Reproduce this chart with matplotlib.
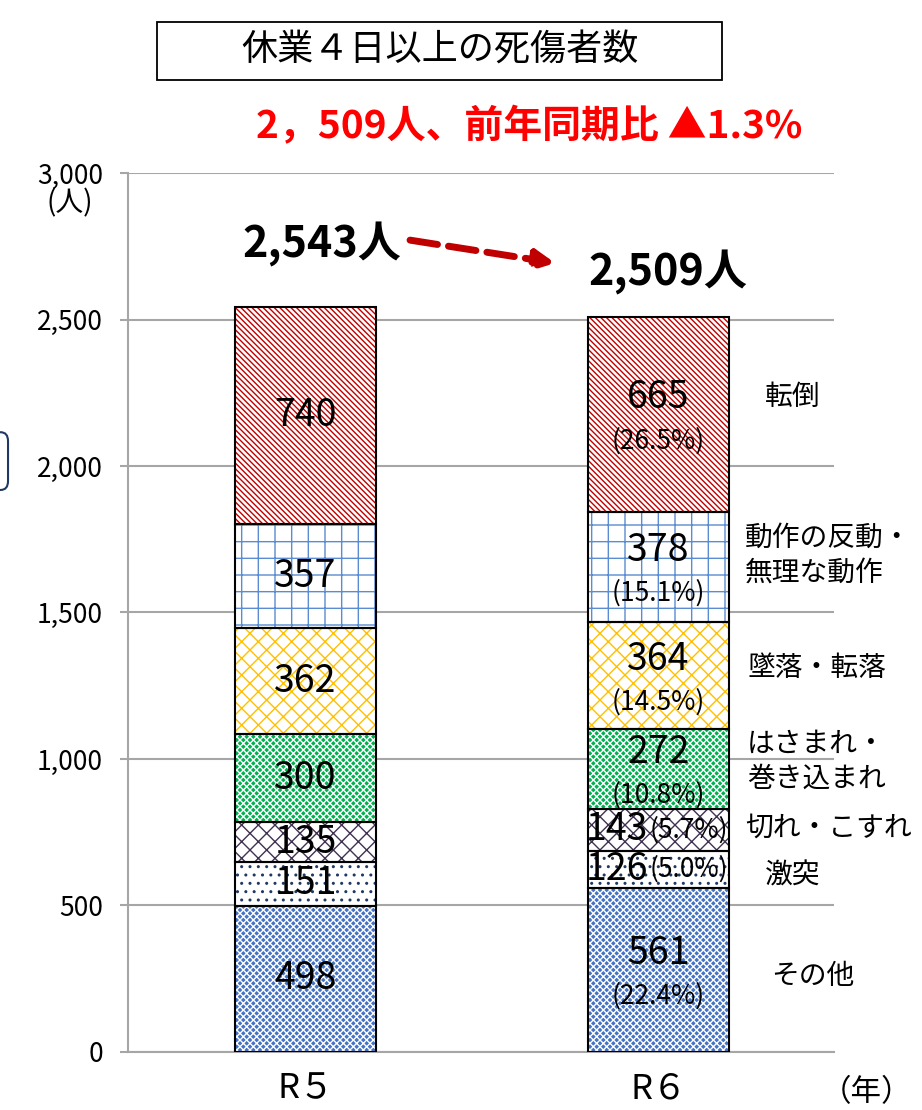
import matplotlib
matplotlib.use("Agg")
import matplotlib.pyplot as plt
from matplotlib.patches import FancyBboxPatch, Rectangle

plt.rcParams['font.family'] = ['Noto Sans CJK JP', 'DejaVu Sans']

# data
years = ['R５', 'R６']
categories = ['その他', '激突', '切れ・こすれ', 'はさまれ・\n巻き込まれ', '墜落・転落', '動作の反動・\n無理な動作', '転倒']
r5 = [498, 151, 135, 300, 362, 357, 740]
r6 = [561, 126, 143, 272, 364, 378, 665]
pct6 = [22.4, 5.0, 5.7, 10.8, 14.5, 15.1, 26.5]
totals = [2543, 2509]
yticks = [0, 500, 1000, 1500, 2000, 2500, 3000]

# styles: (facecolor, hatch colour, hatch)
styles = [
    ('#4472C4', 'white', 'xxxxx'),
    ('white', '#1F3864', '..'),
    ('white', '#403151', 'xx'),
    ('#00B050', 'white', 'xxxxx'),
    ('white', '#FFC000', 'xx'),
    ('white', '#5B8BD0', '+'),
    ('white', '#C00000', '\\\\\\\\\\\\'),
]

fig = plt.figure(figsize=(9.22, 11.1), dpi=100)
ax = fig.add_axes([0.1388, 0.0523, 0.7658, 0.7918])

grid_c = '#A6A6A6'
x = [0, 1]
w = 0.4
for i, vals in enumerate([r5, r6]):
    bottom = 0
    for j, v in enumerate(vals):
        fc, hc, h = styles[j]
        ax.bar(x[i], v, w, bottom=bottom, facecolor=fc, edgecolor=hc,
               hatch=h, linewidth=0, zorder=2)
        ax.bar(x[i], v, w, bottom=bottom, fill=False, edgecolor='black',
               linewidth=1.5, zorder=3)
        mid = bottom + v / 2
        if i == 0:
            ax.text(x[i], mid, f'{v}', ha='center', va='center',
                    fontsize=27, zorder=4)
        elif v < 200 and j in (1, 2):
            ax.text(x[i] - 0.03, mid, f'{v}', ha='right', va='center',
                    fontsize=27, zorder=4)
            ax.text(x[i] - 0.025, mid, f'({pct6[j]:.1f}%)', ha='left',
                    va='center', fontsize=19, zorder=4)
        else:
            ax.annotate(f'{v}', (x[i], mid), xytext=(0, 12),
                        textcoords='offset points', ha='center',
                        va='center', fontsize=27, zorder=4)
            ax.annotate(f'({pct6[j]:.1f}%)', (x[i], mid), xytext=(0, -19),
                        textcoords='offset points', ha='center',
                        va='center', fontsize=19, zorder=4)
        bottom += v

# category labels to the right of R6
label_pos = [(1.32, 259, 'left'), (1.381, 601, 'center'),
             (1.245, 765, 'left'), (1.25, 993, 'left'),
             (1.253, 1311, 'left'), (1.245, 1696, 'left'),
             (1.381, 2235, 'center')]
for cat, (lx, ly, ha) in zip(categories, label_pos):
    ax.text(lx, ly, cat, ha=ha, va='center', fontsize=20,
            linespacing=1.2, clip_on=False)

# totals above bars
tot_off = [(12, 45), (7, 32)]
for i, t in enumerate(totals):
    ax.annotate(f'{t:,}人', (x[i], t), xytext=tot_off[i],
                textcoords='offset points', ha='center', va='center',
                fontsize=31, fontweight='bold')
ax.annotate('', xy=(0.707, 2693), xytext=(0.296, 2771),
            arrowprops=dict(arrowstyle='-|>,head_length=1.1,head_width=0.55',
                            color='#C00000', lw=5, shrinkA=0, shrinkB=0,
                            linestyle=(0, (4, 1.6))))

ax.set_xlim(-0.503, 1.497)
ax.set_ylim(0, 3000)
ax.set_yticks(yticks)
ax.set_yticklabels([f'{t:,}' for t in yticks], fontsize=19)
ax.set_xticks(x)
ax.set_xticklabels(years, fontsize=25)
ax.tick_params(axis='x', length=0, pad=14)
ax.tick_params(axis='y', length=6, color=grid_c, width=1.5, pad=12)
ax.yaxis.grid(True, color=grid_c, linewidth=1.5, zorder=0)
ax.set_axisbelow(True)
for s in ['top', 'right']:
    ax.spines[s].set_visible(False)
for s in ['left', 'bottom']:
    ax.spines[s].set_color(grid_c)
    ax.spines[s].set_linewidth(1.5)

ax.text(-0.667, 2895, '(人)', ha='center', va='center', fontsize=20,
        clip_on=False)
ax.text(1.59, -140, '（年）', ha='center', va='center', fontsize=22,
        clip_on=False)

# title box
fig.patches.append(Rectangle((0.1703, 0.928), 0.6127, 0.052,
                             transform=fig.transFigure, facecolor='white',
                             edgecolor='black', linewidth=1.3))
fig.text(0.477, 0.954, '休業４日以上の死傷者数', ha='center', va='center',
         fontsize=26)
fig.text(0.574, 0.886, '2，509人、前年同期比 ▲1.3%', ha='center',
         va='center', fontsize=28, fontweight='bold', color='#FF0000')

# partial rounded box at the left edge
fig.patches.append(FancyBboxPatch((-0.05, 0.5586), 0.0587, 0.052,
                                  boxstyle='round,pad=0,rounding_size=0.008',
                                  transform=fig.transFigure, facecolor='none',
                                  edgecolor='#1F3864', linewidth=1.5))

fig.savefig('out.png', dpi=100)
